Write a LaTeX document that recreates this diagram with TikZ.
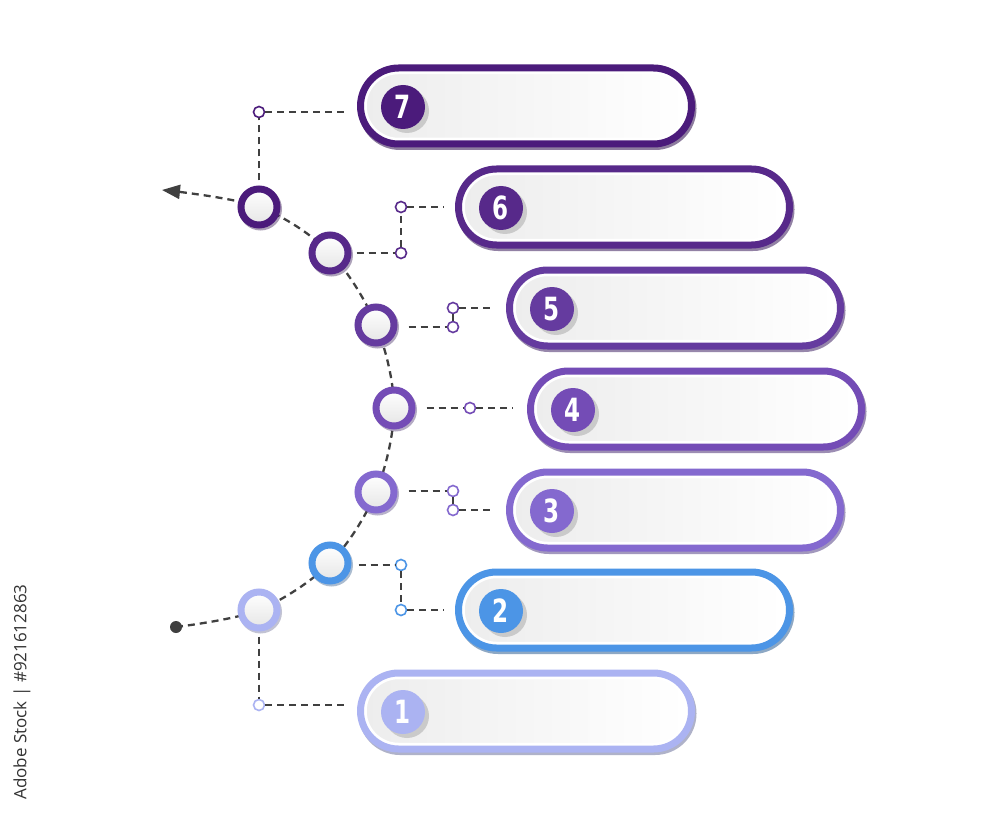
\documentclass[tikz,border=0pt]{standalone}
\usepackage{fontspec}
\setmainfont{Open Sans}
\newfontfamily\numfont{DejaVu Sans Condensed}
\usetikzlibrary{arrows.meta,shapes.misc,backgrounds}
\definecolor{k7}{HTML}{4B1B7B}
\definecolor{k6}{HTML}{57298A}
\definecolor{k5}{HTML}{653B9F}
\definecolor{k4}{HTML}{744CB6}
\definecolor{k3}{HTML}{8469CF}
\definecolor{k2}{HTML}{4C95E6}
\definecolor{k1}{HTML}{ABB3F2}
\tikzset{
  bar/.style={rounded rectangle, draw=#1, line width=7pt, fill=white, minimum width=331pt, minimum height=76pt, inner sep=0pt},
  barshadow/.style={rounded rectangle, draw=#1!65!black, line width=7pt, minimum width=331pt, minimum height=76pt, inner sep=0pt, opacity=.55},
  barinner/.style={rounded rectangle, draw=white, line width=1.5pt, left color=gray!14, right color=white, minimum width=320pt, minimum height=65pt, inner sep=0pt},
  numdisc/.style={circle, fill=#1, text=white, minimum size=44pt, inner sep=0pt, font=\numfont\bfseries\fontsize{32}{32}\selectfont},
  numshadow/.style={circle, fill=gray!60, opacity=.6, minimum size=44pt, inner sep=0pt},
  ring/.style={circle, draw=#1, line width=7pt, top color=white, bottom color=gray!20, minimum size=36pt, inner sep=0pt},
  ringshadow/.style={circle, draw=#1!60!black, line width=7pt, minimum size=36pt, inner sep=0pt, opacity=.4},
  knot/.style={circle, draw=#1, line width=1.6pt, fill=white, minimum size=11pt, inner sep=0pt},
  mydash/.style={draw=black!75, line width=2.3pt, dash pattern=on 7pt off 5pt},
}
\newcommand\stepbar[4]{%
  \node[barshadow=#4] at ({#2+1.5},{#3+2.5}) {};
  \node[bar=#4] (b#1) at (#2,#3) {};
  \node[barinner] (i#1) at (#2,#3) {};
  \node[numshadow] at ({#2-123+4},{#3+5}) {};
  \node[numdisc=#4] (n#1) at ({#2-123},{#3+1}) {\scalebox{0.8}[1]{#1}};
}
\newcommand\pathring[4]{%
  \node[ringshadow=#4] at ({#2+1.5},{#3+2}) {};
  \node[ring=#4] (c#1) at (#2,#3) {};
}
\begin{document}
\begin{tikzpicture}[x=1pt,y=-1pt]
\useasboundingbox (0,0) rectangle (1000,818);

% bars
\stepbar{7}{526}{106}{k7}
\stepbar{6}{624}{207}{k6}
\stepbar{5}{675}{308}{k5}
\stepbar{4}{696}{409}{k4}
\stepbar{3}{675}{510}{k3}
\stepbar{2}{624}{610}{k2}
\stepbar{1}{526}{711}{k1}

% path rings
\pathring{7}{259}{207}{k7}
\pathring{6}{330}{253}{k6}
\pathring{5}{376}{325}{k5}
\pathring{4}{394}{408}{k4}
\pathring{3}{376}{492}{k3}
\pathring{2}{330}{563}{k2}
\pathring{1}{259}{610}{k1}

% start dot and arrow end
\node[circle, fill=black!75, minimum size=12pt, inner sep=0pt] (dot) at (176,627) {};
\coordinate (tip) at (162,190);

% small knots
\node[knot=k7] (s7) at (259,112) {};
\node[knot=k6] (s6a) at (401,253) {};
\node[knot=k6] (s6b) at (401,207) {};
\node[knot=k5] (s5a) at (453,327) {};
\node[knot=k5] (s5b) at (453,308) {};
\node[knot=k4] (s4) at (470,408) {};
\node[knot=k3] (s3a) at (453,491) {};
\node[knot=k3] (s3b) at (453,510) {};
\node[knot=k2] (s2a) at (401,565) {};
\node[knot=k2] (s2b) at (401,610) {};
\node[knot=k1] (s1) at (259,705) {};

% connector ends near bars
\coordinate (e7) at (349,112);
\coordinate (e6) at (444,207);
\coordinate (e5) at (494,308);
\coordinate (e4) at (513,408);
\coordinate (e3) at (494,510);
\coordinate (e2) at (444,610);
\coordinate (e1) at (349,705);

\begin{pgfonlayer}{background}
  \fill[white] (0,0) rectangle (1000,818);
  \draw[mydash, -{Triangle[length=18pt,width=14pt]}] plot[smooth, tension=0.55] coordinates {(dot.center) (c1.center) (c2.center) (c3.center) (c4.center) (c5.center) (c6.center) (c7.center) (tip)};
\end{pgfonlayer}

% connectors
\draw[mydash] ([yshift=5pt]c7.north) -- (s7.south);
\draw[mydash] (s7.east) -- (e7);
\draw[mydash] ([xshift=5pt]c6.east) -- (s6a.west);
\draw[mydash] (s6a.north) -- (s6b.south);
\draw[mydash] (s6b.east) -- (e6);
\draw[mydash] ([xshift=11pt,yshift=-2pt]c5.east) -- (s5a.west);
\draw[mydash] (s5a.north) -- (s5b.south);
\draw[mydash] (s5b.east) -- (e5);
\draw[mydash] ([xshift=11pt]c4.east) -- (s4.west);
\draw[mydash] (s4.east) -- (e4);
\draw[mydash] ([xshift=11pt,yshift=1pt]c3.east) -- (s3a.west);
\draw[mydash] (s3a.south) -- (s3b.north);
\draw[mydash] (s3b.east) -- (e3);
\draw[mydash] ([xshift=7pt,yshift=-2pt]c2.east) -- (s2a.west);
\draw[mydash] (s2a.south) -- (s2b.north);
\draw[mydash] (s2b.east) -- (e2);
\draw[mydash] ([yshift=-5pt]c1.south) -- (s1.north);
\draw[mydash] (s1.east) -- (e1);

% side credit
\node[rotate=90, font=\fontsize{17}{17}\selectfont, text=black!80, inner sep=0pt] (credit) at (22,692) {Adobe Stock | \#921612863};
\end{tikzpicture}
\end{document}
